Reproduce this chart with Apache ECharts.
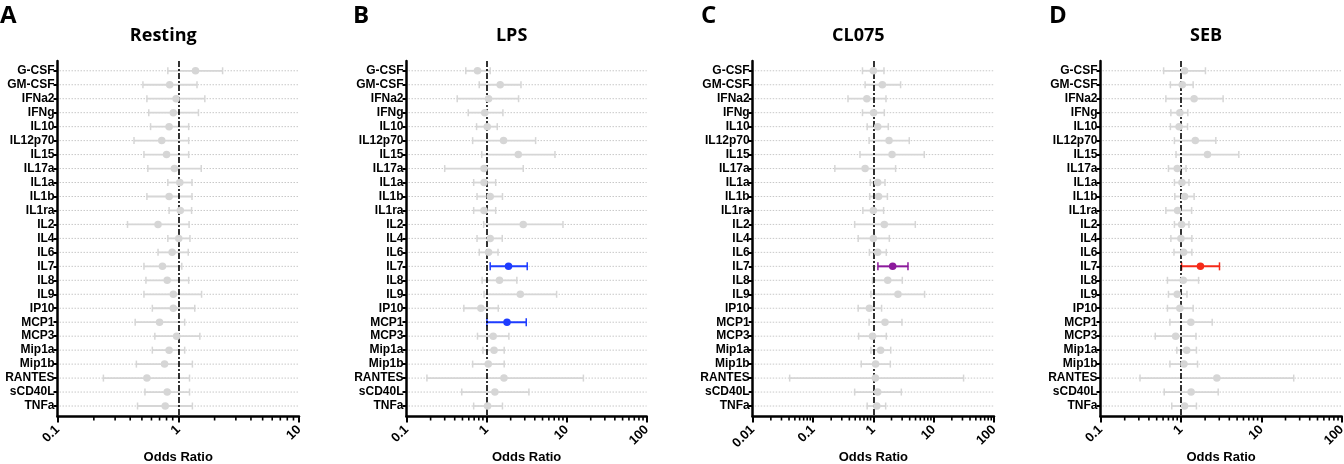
<!DOCTYPE html>
<html>
<head>
<meta charset="utf-8">
<script src="https://cdn.jsdelivr.net/npm/echarts@6/dist/echarts.min.js"></script>
<style>
  html, body { margin: 0; padding: 0; background: #fff; }
  #main { width: 1344px; height: 464px; }
</style>
</head>
<body>
<div id="main"></div>
<script>
// cytokines, top to bottom
const cytokines = ['G-CSF', 'GM-CSF', 'IFNa2', 'IFNg', 'IL10', 'IL12p70', 'IL15', 'IL17a', 'IL1a', 'IL1b',
  'IL1ra', 'IL2', 'IL4', 'IL6', 'IL7', 'IL8', 'IL9', 'IP10', 'MCP1', 'MCP3', 'Mip1a', 'Mip1b', 'RANTES', 'sCD40L', 'TNFa'];

// odds ratio + 95% CI
const restingOR = [1.39, 0.85, 0.96, 0.91, 0.84, 0.73, 0.80, 0.93, 1.03, 0.84, 1.04, 0.68, 1.01, 0.89, 0.74, 0.81, 0.91, 0.91, 0.70, 0.97, 0.84, 0.77, 0.55, 0.81, 0.78];
const restingLo = [0.82, 0.51, 0.55, 0.57, 0.59, 0.43, 0.52, 0.56, 0.82, 0.55, 0.84, 0.38, 0.82, 0.68, 0.52, 0.54, 0.52, 0.61, 0.44, 0.64, 0.61, 0.45, 0.24, 0.53, 0.46];
const restingHi = [2.33, 1.43, 1.66, 1.47, 1.22, 1.22, 1.22, 1.55, 1.30, 1.30, 1.29, 1.23, 1.25, 1.21, 1.07, 1.22, 1.56, 1.37, 1.13, 1.51, 1.13, 1.31, 1.24, 1.24, 1.31];

const lpsOR = [0.77, 1.48, 1.06, 0.95, 1.02, 1.63, 2.49, 0.93, 0.93, 1.11, 0.93, 2.87, 1.11, 1.06, 1.88, 1.45, 2.64, 0.85, 1.80, 1.21, 1.24, 1.05, 1.65, 1.27, 1.03];
const lpsLo = [0.55, 0.81, 0.43, 0.59, 0.75, 0.67, 0.87, 0.30, 0.69, 0.76, 0.69, 0.92, 0.76, 0.81, 1.11, 0.88, 0.93, 0.52, 1.01, 0.77, 0.90, 0.67, 0.18, 0.49, 0.69];
const lpsHi = [1.11, 2.69, 2.51, 1.60, 1.36, 4.10, 7.15, 2.87, 1.30, 1.58, 1.30, 9.0, 1.57, 1.39, 3.22, 2.39, 7.50, 1.40, 3.13, 1.90, 1.66, 1.66, 16.2, 3.38, 1.58];

const cl075OR = [1.00, 1.41, 0.78, 1.01, 1.18, 1.82, 2.04, 0.73, 1.18, 1.22, 1.00, 1.52, 1.00, 1.18, 2.09, 1.73, 2.56, 0.86, 1.56, 0.97, 1.32, 1.09, 1.08, 1.18, 1.14];
const cl075Lo = [0.66, 0.73, 0.38, 0.66, 0.79, 0.85, 0.60, 0.23, 0.89, 0.87, 0.67, 0.49, 0.56, 0.86, 1.19, 0.97, 0.91, 0.56, 0.85, 0.57, 0.91, 0.63, 0.041, 0.49, 0.79];
const cl075Hi = [1.50, 2.83, 1.62, 1.52, 1.77, 3.94, 6.98, 2.34, 1.56, 1.71, 1.48, 4.96, 1.84, 1.64, 3.75, 3.02, 7.07, 1.37, 2.98, 1.64, 1.94, 1.91, 31.3, 2.91, 1.60];

const sebOR = [1.11, 1.04, 1.46, 0.97, 0.95, 1.51, 2.14, 0.90, 1.03, 1.11, 0.91, 1.02, 1.00, 1.08, 1.75, 1.07, 0.90, 0.97, 1.33, 0.86, 1.18, 1.09, 2.80, 1.34, 1.11];
const sebLo = [0.61, 0.74, 0.65, 0.75, 0.74, 0.83, 0.87, 0.70, 0.83, 0.84, 0.65, 0.83, 0.75, 0.82, 1.02, 0.68, 0.70, 0.68, 0.73, 0.48, 0.89, 0.73, 0.31, 0.62, 0.77];
const sebHi = [2.02, 1.42, 3.35, 1.22, 1.21, 2.72, 5.25, 1.16, 1.26, 1.46, 1.36, 1.26, 1.37, 1.37, 3.02, 1.66, 1.19, 1.42, 2.45, 1.54, 1.56, 1.61, 25.3, 2.91, 1.56];

// significant cytokines per stimulus
const restingSig = [];
const lpsSig = ['IL7', 'MCP1'];
const cl075Sig = ['IL7'];
const sebSig = ['IL7'];

const panelLetters = ['A', 'B', 'C', 'D'];
const panelTitles = ['Resting', 'LPS', 'CL075', 'SEB'];
const xMins = [0.1, 0.1, 0.01, 0.1];
const xMaxs = [10, 100, 100, 100];
const minorSteps = [2, 3, 4, 5, 6, 7, 8, 9];

const panels = [
  { or: restingOR, lo: restingLo, hi: restingHi, sig: restingSig, color: '#888' },
  { or: lpsOR, lo: lpsLo, hi: lpsHi, sig: lpsSig, color: '#1e3cff' },
  { or: cl075OR, lo: cl075Lo, hi: cl075Hi, sig: cl075Sig, color: '#8c1a9c' },
  { or: sebOR, lo: sebLo, hi: sebHi, sig: sebSig, color: '#f52a18' }
];

// pixel layout
const gridLefts = [57.5, 406.5, 752.7, 1100.5];
const gridWidths = [241.5, 240.2, 241.3, 241.2];
const gridTop = 61;
const gridBottom = 47.5;
const GRAY = '#d6d6d6';
const labelFont = '"Liberation Sans", Arial, sans-serif';
const rowIdx = cytokines.map((c, k) => k);

const chart = echarts.init(document.getElementById('main'));

const grid = [], xAxis = [], yAxis = [], series = [], graphic = [];

panels.forEach((p, i) => {
  grid.push({
    left: gridLefts[i], width: gridWidths[i], top: gridTop, bottom: gridBottom,
    containLabel: false, outerBoundsMode: 'none'
  });

  xAxis.push({
    gridIndex: i, type: 'log', logBase: 10, min: xMins[i], max: xMaxs[i],
    name: 'Odds Ratio', nameLocation: 'middle', nameGap: 34, nameMoveOverlap: false,
    nameTextStyle: { fontFamily: labelFont, fontWeight: 'bold', fontSize: 13, color: '#000' },
    axisLine: { show: true, onZero: false, lineStyle: { color: '#000', width: 2.5 } },
    axisTick: { show: true, length: 6, lineStyle: { color: '#000', width: 2 } },
    axisLabel: { rotate: 45, margin: 11, fontFamily: labelFont, fontWeight: 'bold', fontSize: 13, color: '#000' },
    splitLine: { show: false }
  });

  // rows sit on a plain value axis so the ends can be padded like the original
  yAxis.push({
    gridIndex: i, type: 'value', inverse: true, min: -0.7, max: 24.75,
    axisLine: { show: true, onZero: false, lineStyle: { color: '#000', width: 2.5 } },
    axisTick: { show: true, customValues: rowIdx, length: 4, lineStyle: { color: '#000', width: 2 } },
    axisLabel: {
      customValues: rowIdx, margin: 3, fontFamily: labelFont, fontWeight: 'bold', fontSize: 12, color: '#000',
      formatter: v => cytokines[Math.round(v)]
    },
    splitLine: { show: false }
  });

  // dotted row guides
  series.push({
    type: 'custom', xAxisIndex: i, yAxisIndex: i, z: 1, silent: true,
    data: rowIdx.map(k => [xMins[i], k]),
    renderItem: (params, api) => {
      const cs = params.coordSys;
      const pt = api.coord([api.value(0), api.value(1)]);
      return {
        type: 'line',
        shape: { x1: cs.x + 2, y1: pt[1], x2: cs.x + cs.width, y2: pt[1] },
        style: { stroke: '#c8c8c8', lineWidth: 1, lineDash: [1.5, 1.5] }
      };
    }
  });

  // error bars
  series.push({
    type: 'custom', xAxisIndex: i, yAxisIndex: i, z: 3, silent: true,
    data: cytokines.map((c, k) => ({
      value: [p.lo[k], p.hi[k], k],
      itemStyle: { color: p.sig.includes(c) ? p.color : GRAY }
    })),
    renderItem: (params, api) => {
      const a = api.coord([api.value(0), api.value(2)]);
      const b = api.coord([api.value(1), api.value(2)]);
      const col = api.visual('color');
      const hl = col !== GRAY;
      const cap = hl ? 4 : 3.5;
      const lw = hl ? 2 : 1.8;
      return {
        type: 'group',
        children: [
          { type: 'line', shape: { x1: a[0], y1: a[1], x2: b[0], y2: b[1] }, style: { stroke: col, lineWidth: lw } },
          { type: 'line', shape: { x1: a[0], y1: a[1] - cap, x2: a[0], y2: a[1] + cap }, style: { stroke: col, lineWidth: 1.5 } },
          { type: 'line', shape: { x1: b[0], y1: b[1] - cap, x2: b[0], y2: b[1] + cap }, style: { stroke: col, lineWidth: 1.5 } }
        ]
      };
    }
  });

  // odds ratio points + reference line at 1
  series.push({
    type: 'scatter', xAxisIndex: i, yAxisIndex: i, z: 5, symbolSize: 7.5, silent: true,
    data: cytokines.map((c, k) => ({
      value: [p.or[k], k],
      itemStyle: { color: p.sig.includes(c) ? p.color : GRAY, opacity: 1 }
    })),
    markLine: {
      silent: true, symbol: 'none', z: 4,
      label: { show: false },
      lineStyle: { color: '#000', width: 1.6, type: [6, 2, 2, 2] },
      data: [{ xAxis: 1 }]
    }
  });

  // minor log ticks
  const minors = [];
  for (let d = xMins[i]; d < xMaxs[i] * 0.999; d *= 10) {
    minorSteps.forEach(s => minors.push([+(d * s).toPrecision(3), 0]));
  }
  series.push({
    type: 'custom', xAxisIndex: i, yAxisIndex: i, z: 6, silent: true, clip: false,
    data: minors,
    renderItem: (params, api) => {
      const cs = params.coordSys;
      const pt = api.coord([api.value(0), 0]);
      const yb = cs.y + cs.height;
      return {
        type: 'line',
        shape: { x1: pt[0], y1: yb, x2: pt[0], y2: yb + 4 },
        style: { stroke: '#000', lineWidth: 1.6 }
      };
    }
  });

  graphic.push({
    type: 'text', left: [0, 353, 701, 1049][i], top: 4,
    style: { text: panelLetters[i], font: 'bold 24px "Open Sans", sans-serif', fill: '#000' }
  });
  graphic.push({
    type: 'text', x: gridLefts[i] + gridWidths[i] / 2 - 15, y: 36,
    style: {
      text: panelTitles[i], font: 'bold 18px "Open Sans", sans-serif', fill: '#000',
      textAlign: 'center', textVerticalAlign: 'middle'
    }
  });
});

chart.setOption({
  animation: false,
  backgroundColor: '#fff',
  grid, xAxis, yAxis, series, graphic
});
</script>
</body>
</html>
